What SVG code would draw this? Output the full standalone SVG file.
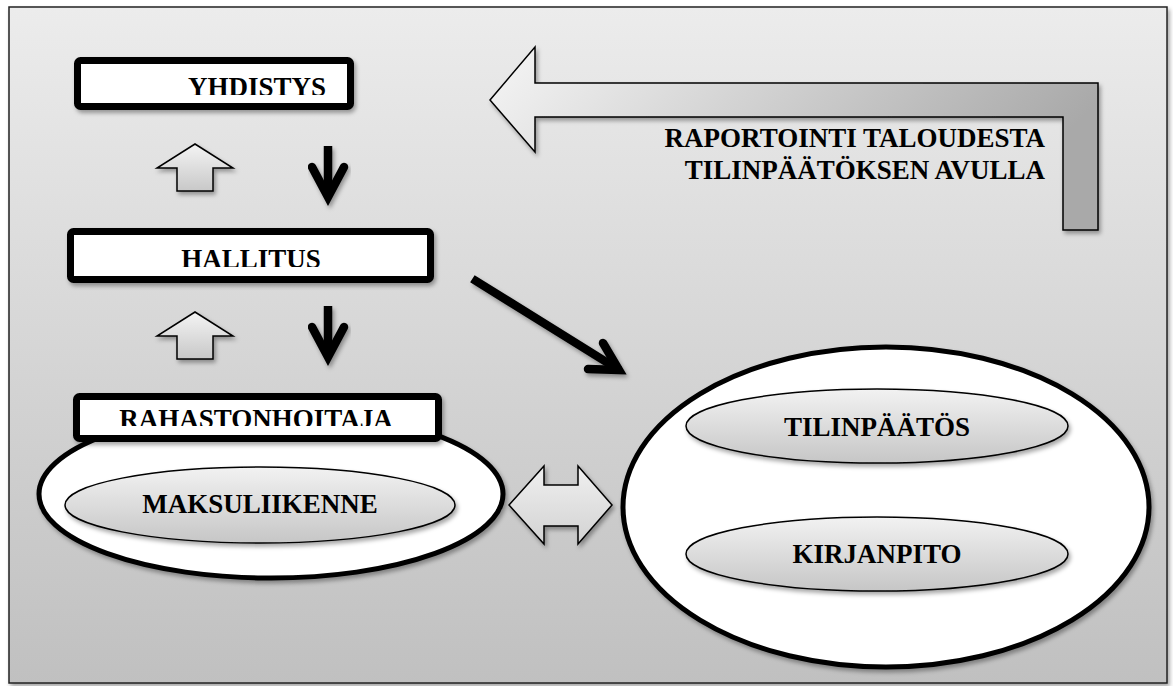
<svg xmlns="http://www.w3.org/2000/svg" width="1173" height="686" viewBox="0 0 1173 686">
  <style>
    .lbl { font-family: 'Liberation Serif', 'Times New Roman', Times, serif; font-weight: 700; font-size: 27px; fill: #000; }
    .box { fill: #fff; stroke: #000; stroke-width: 7; }
    .hollow { stroke: #000; stroke-width: 1.5; stroke-linejoin: miter; }
    .pill { fill: url(#pillGrad); stroke: #000; stroke-width: 1.5; }
    .ring { fill: #fff; stroke: #000; stroke-width: 5; }
    .solid { fill: none; stroke: #000; stroke-width: 8.5; }
  </style>
  <defs>
    <linearGradient id="bgGrad" x1="0" y1="0" x2="0" y2="1">
      <stop offset="0" stop-color="#ececec"/>
      <stop offset="1" stop-color="#c0c0c0"/>
    </linearGradient>
    <linearGradient id="pillGrad" x1="0" y1="0" x2="0" y2="1">
      <stop offset="0" stop-color="#f2f2f2"/>
      <stop offset="1" stop-color="#c6c6c6"/>
    </linearGradient>
    <linearGradient id="upGrad" x1="0" y1="0" x2="0" y2="1">
      <stop offset="0" stop-color="#f4f4f4"/>
      <stop offset="1" stop-color="#c8c8c8"/>
    </linearGradient>
    <linearGradient id="bentGrad" x1="0" y1="0" x2="1" y2="0.3">
      <stop offset="0" stop-color="#f6f6f6"/>
      <stop offset="1" stop-color="#a9a9a9"/>
    </linearGradient>
    <linearGradient id="dblGrad" x1="0" y1="0" x2="0" y2="1">
      <stop offset="0" stop-color="#f0f0f0"/>
      <stop offset="1" stop-color="#d2d2d2"/>
    </linearGradient>
    <filter id="shadow" x="-10%" y="-10%" width="130%" height="140%">
      <feDropShadow dx="2" dy="3" stdDeviation="2" flood-color="#000" flood-opacity="0.35"/>
    </filter>
    <clipPath id="clipTop"><rect x="80" y="60" width="270" height="35"/></clipPath>
    <clipPath id="clipMid"><rect x="74" y="234" width="354" height="33"/></clipPath>
    <clipPath id="clipLow"><rect x="80" y="399" width="356" height="27"/></clipPath>
  </defs>

  <!-- frame -->
  <rect x="9" y="7" width="1158" height="676" fill="url(#bgGrad)" stroke="#222" stroke-width="1.5" filter="url(#shadow)"/>

  <!-- reporting arrow with caption -->
  <g id="report">
    <polygon class="hollow" fill="url(#bentGrad)" filter="url(#shadow)"
      points="490,100 535,47 535,83 1098,83 1098,230 1063,230 1063,117 535,117 535,152"/>
    <text class="lbl" x="1045" y="147" text-anchor="end">RAPORTOINTI TALOUDESTA</text>
    <text class="lbl" x="1045" y="179" text-anchor="end">TILINPÄÄTÖKSEN AVULLA</text>
  </g>

  <!-- organisation chain -->
  <g id="yhdistys">
    <rect class="box" x="77.5" y="60.5" width="273" height="46" rx="3" filter="url(#shadow)"/>
    <text class="lbl" x="257" y="96" text-anchor="middle" clip-path="url(#clipTop)">YHDISTYS</text>
  </g>

  <g id="hallitus">
    <rect class="box" x="70.5" y="231.5" width="360" height="48" rx="3" filter="url(#shadow)"/>
    <text class="lbl" x="251" y="268" text-anchor="middle" clip-path="url(#clipMid)">HALLITUS</text>
  </g>

  <g id="rahastonhoitaja">
    <ellipse class="ring" cx="271" cy="494" rx="232" ry="84" filter="url(#shadow)"/>
    <rect class="box" x="76.5" y="396.5" width="362" height="42" rx="3" filter="url(#shadow)"/>
    <text class="lbl" x="256" y="428" text-anchor="middle" clip-path="url(#clipLow)">RAHASTONHOITAJA</text>
    <g id="maksuliikenne">
      <ellipse class="pill" cx="260" cy="505" rx="195" ry="38" filter="url(#shadow)"/>
      <text class="lbl" x="260" y="513" text-anchor="middle">MAKSULIIKENNE</text>
    </g>
  </g>

  <g id="talous">
    <ellipse class="ring" cx="886" cy="507" rx="263" ry="160" filter="url(#shadow)"/>
    <g id="tilinpaatos">
      <ellipse class="pill" cx="877" cy="426" rx="191" ry="37" filter="url(#shadow)"/>
      <text class="lbl" x="877" y="436" text-anchor="middle">TILINPÄÄTÖS</text>
    </g>
    <g id="kirjanpito">
      <ellipse class="pill" cx="877" cy="554" rx="191" ry="37" filter="url(#shadow)"/>
      <text class="lbl" x="877" y="563" text-anchor="middle">KIRJANPITO</text>
    </g>
  </g>

  <!-- connectors -->
  <g id="connectors">
    <!-- upward block arrows -->
    <polygon class="hollow" fill="url(#upGrad)" filter="url(#shadow)"
      points="195,144 233,168 213,168 213,191 177,191 177,168 157,168"/>
    <polygon class="hollow" fill="url(#upGrad)" filter="url(#shadow)"
      points="195,312 233,336 213,336 213,359 177,359 177,336 157,336"/>

    <!-- downward line arrows -->
    <g filter="url(#shadow)">
      <line class="solid" x1="328" y1="146" x2="328" y2="194" stroke-linecap="butt"/>
      <polyline class="solid" points="312,167 328,197 344,167" stroke-linecap="round" stroke-linejoin="miter"/>
      <line class="solid" x1="328" y1="306" x2="328" y2="354" stroke-linecap="butt"/>
      <polyline class="solid" points="312,327 328,357 344,327" stroke-linecap="round" stroke-linejoin="miter"/>
    </g>

    <!-- diagonal arrow towards the accounting ellipse -->
    <g filter="url(#shadow)">
      <line class="solid" x1="476" y1="281" x2="616" y2="368" stroke-linecap="square"/>
      <polyline class="solid" points="603,343 619,370 588,369" stroke-linecap="round" stroke-linejoin="miter"/>
    </g>

    <!-- two-way block arrow -->
    <polygon class="hollow" fill="url(#dblGrad)" filter="url(#shadow)"
      points="509,505 544,466 544,485 578,485 578,466 612,505 578,544 578,526 544,526 544,544"/>
  </g>
</svg>
